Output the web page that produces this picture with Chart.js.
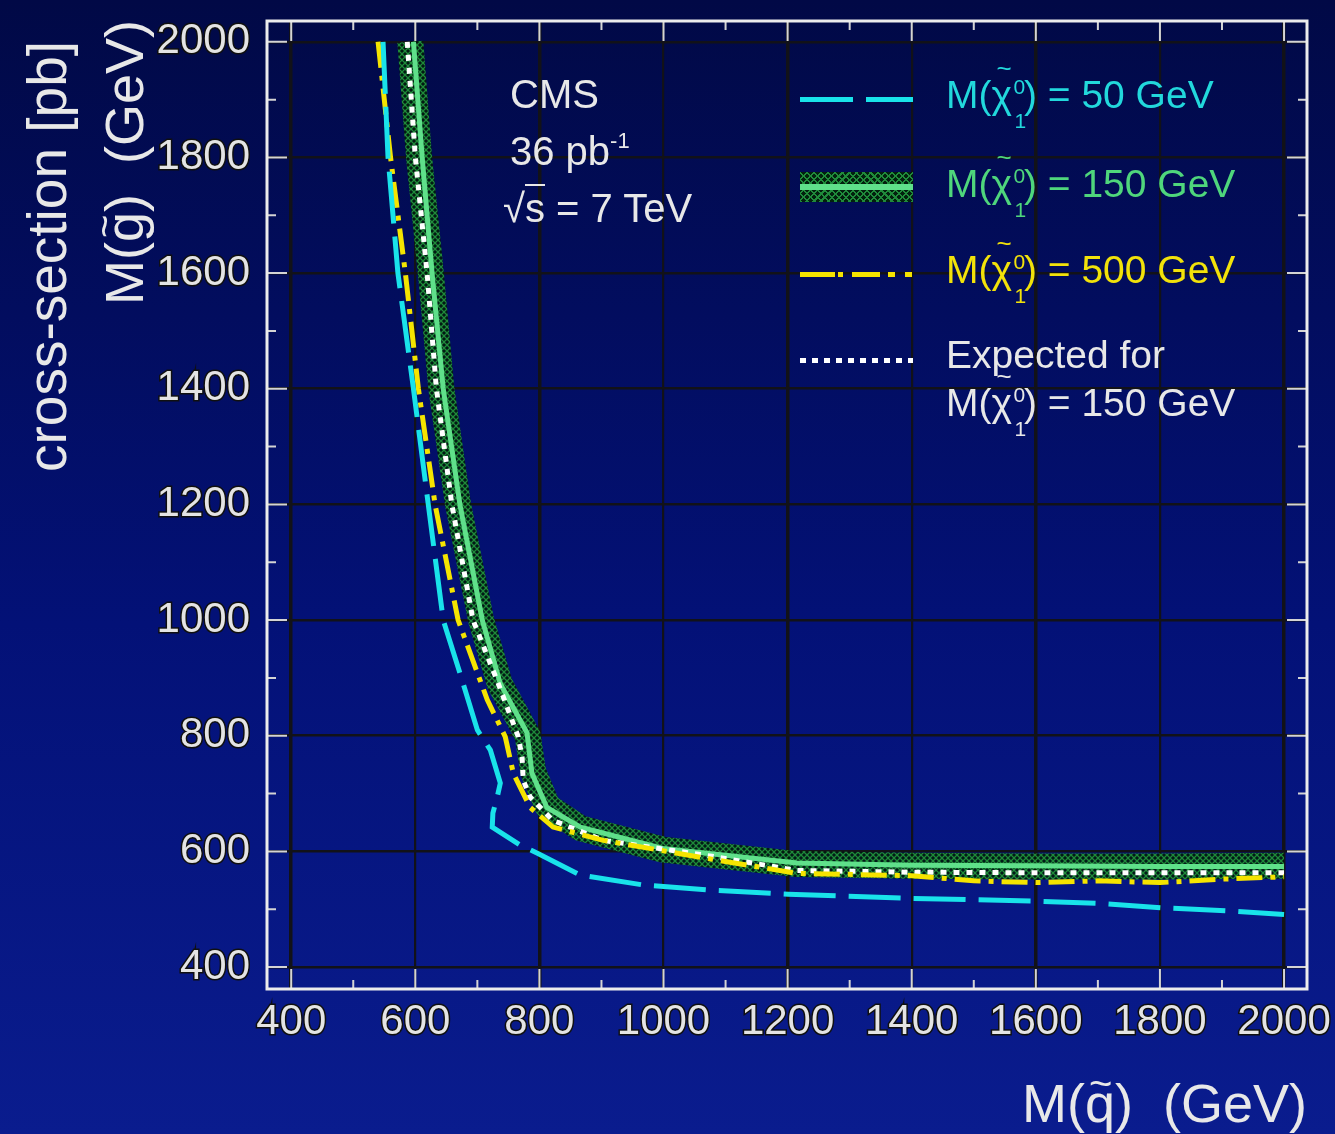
<!DOCTYPE html>
<html>
<head>
<meta charset="utf-8">
<script src="https://cdn.jsdelivr.net/npm/chart.js@4.4.0/dist/chart.umd.min.js"></script>
<style>
  html, body { margin: 0; padding: 0; }
  body {
    width: 1335px; height: 1134px; overflow: hidden;
    background: linear-gradient(180deg, #010946 0%, #031177 55%, #0a1c8e 100%);
    font-family: "Liberation Sans", Arial, sans-serif;
  }
  #wrap { position: relative; width: 1335px; height: 1134px; }
  #box { position: absolute; left: 0; top: 0; width: 1335px; height: 1134px; }
  .t { position: absolute; line-height: 1; white-space: nowrap; }
  .white { color: #e8e8e8; }
  .lg { font-size: 39px; left: 946px; }
  .chi { position: relative; display: inline-block; padding-right: 12px; }
  .chi .sup { position: absolute; font-size: 21px; left: 22px; top: 1px; }
  .chi .sub { position: absolute; font-size: 21px; left: 23px; top: 35px; }
  .chi .tld { position: absolute; font-size: 26px; left: 5px; top: -20px; }
  .tq { position: relative; display: inline-block; }
  .tq .tld { position: absolute; font-size: 40px; left: 4px; top: -13px; }
  .rot { transform-origin: 0 0; transform: rotate(-90deg); }
  .sample { position: absolute; left: 800px; width: 113px; }
</style>
</head>
<body>
<div id="wrap">
  <div id="box"><canvas id="limits"></canvas></div>

  <!-- axis titles -->
  <div class="t white rot" style="left:20px; top:472px; font-size:55px;">cross-section [pb]</div>
  <div class="t white rot" style="left:97px; top:305px; font-size:54px;">M(<span class="tq">g<span class="tld">~</span></span>)&nbsp; (GeV)</div>
  <div class="t white" style="left:1022px; top:1076px; font-size:54px;">M(<span class="tq">q<span class="tld">~</span></span>)&nbsp; (GeV)</div>

  <!-- CMS label -->
  <div class="t white" style="left:510px; top:74px; font-size:40px;">CMS</div>
  <div class="t white" style="left:510px; top:131px; font-size:40px;">36 pb<span style="position:relative; top:-17px; font-size:22px;">-1</span></div>
  <div class="t white" style="left:503px; top:188px; font-size:40px;">&radic;<span style="border-top:2px solid #e8e8e8;">s</span> = 7 TeV</div>

  <!-- legend -->
  <div class="sample" style="top:97px; height:5px; background:linear-gradient(90deg, #19e3ea 0 53px, transparent 53px 66px, #19e3ea 66px 113px);"></div>
  <div class="sample" style="top:172px; height:30px; background-color:#03200e;
       background-image:repeating-linear-gradient(45deg, #1f8a3a 0 1.5px, transparent 1.5px 5px),
                        repeating-linear-gradient(-45deg, #1f8a3a 0 1.5px, transparent 1.5px 5px);"></div>
  <div class="sample" style="top:184px; height:6px; background:#5fe08a;"></div>
  <div class="sample" style="top:272px; height:5px; background:linear-gradient(90deg, #f5e400 0 35px, transparent 35px 38px, #f5e400 38px 43px, transparent 43px 52px, #f5e400 52px 80px, transparent 80px 88px, #f5e400 88px 95px, transparent 95px 105px, #f5e400 105px 112px, transparent 112px);"></div>
  <div class="sample" style="top:358px; height:5px; background:repeating-linear-gradient(90deg, #ffffff 0 6px, transparent 6px 12px);"></div>

  <div class="t lg" style="top:75px; color:#22d8dc;">M(<span class="chi">&chi;<span class="tld">~</span><span class="sup">0</span><span class="sub">1</span></span>) = 50 GeV</div>
  <div class="t lg" style="top:164px; color:#4fd67c;">M(<span class="chi">&chi;<span class="tld">~</span><span class="sup">0</span><span class="sub">1</span></span>) = 150 GeV</div>
  <div class="t lg" style="top:250px; color:#f2e20a;">M(<span class="chi">&chi;<span class="tld">~</span><span class="sup">0</span><span class="sub">1</span></span>) = 500 GeV</div>
  <div class="t lg white" style="top:335px;">Expected for</div>
  <div class="t lg white" style="top:383px;">M(<span class="chi">&chi;<span class="tld">~</span><span class="sup">0</span><span class="sub">1</span></span>) = 150 GeV</div>
</div>

<script>
// squark mass (x) and gluino mass (y) of each exclusion contour, GeV
const lsp50X = [548, 556, 572, 597, 621, 645, 672, 700, 721, 737, 732, 725, 724, 769, 796, 866, 967, 1075, 1201, 1391, 1600, 1705, 1810, 1915, 2000];
const lsp50Y = [2000, 1801, 1600, 1400, 1199, 1000, 908, 810, 775, 718, 694, 666, 642, 611, 597, 559, 542, 533, 526, 519, 514, 510, 502, 497, 491];

const lsp150X = [597, 611, 627, 645, 672, 708, 737, 780, 788, 812, 866, 999, 1215, 1400, 1600, 1800, 2000];
const lsp150Y = [2000, 1801, 1600, 1400, 1199, 1000, 890, 805, 735, 676, 642, 605, 580, 576, 575, 574, 574];

// uncertainty band around the 150 GeV observed limit (centre line)
const bandX = [592, 606, 625, 642, 669, 706, 736, 781, 790, 813, 866, 999, 1215, 1400, 1600, 1800, 2000];
const bandY = [2000, 1801, 1600, 1400, 1199, 1000, 890, 800, 738, 678, 640, 603, 578, 575, 574, 574, 575];

const expectedX = [587, 600, 619, 634, 659, 693, 732, 766, 772, 774, 785, 821, 903, 1064, 1215, 1400, 1600, 1800, 2000];
const expectedY = [2000, 1801, 1600, 1400, 1199, 1000, 895, 798, 763, 723, 694, 654, 619, 594, 567, 564, 563, 563, 563];

const lsp500X = [540, 560, 584, 605, 632, 669, 716, 745, 758, 785, 822, 903, 1064, 1215, 1400, 1500, 1600, 1700, 1800, 1900, 2000];
const lsp500Y = [2000, 1801, 1600, 1400, 1199, 1000, 862, 798, 735, 676, 642, 619, 589, 562, 558, 549, 546, 549, 546, 552, 556];

const xTickValues = [400, 600, 800, 1000, 1200, 1400, 1600, 1800, 2000];
const yTickValues = [400, 600, 800, 1000, 1200, 1400, 1600, 1800, 2000];
const frameTicks = [400, 500, 600, 700, 800, 900, 1000, 1100, 1200, 1300, 1400, 1500, 1600, 1700, 1800, 1900, 2000];

const FONT = "'Liberation Sans', Arial, sans-serif";

const toPoints = (xs, ys) => xs.map((x, i) => ({ x: x, y: ys[i] }));

// cross hatch used for the band
const hatch = document.createElement("canvas");
hatch.width = 6;
hatch.height = 6;
const hctx = hatch.getContext("2d");
hctx.fillStyle = "rgba(2, 28, 12, 0.9)";
hctx.fillRect(0, 0, 6, 6);
hctx.strokeStyle = "#1f8a3a";
hctx.lineWidth = 1.3;
hctx.beginPath();
hctx.moveTo(0, 0); hctx.lineTo(6, 6);
hctx.moveTo(6, 0); hctx.lineTo(0, 6);
hctx.stroke();
const hatchPattern = hctx.createPattern(hatch, "repeat");

// white frame with inward ticks on all four sides
const framePlugin = {
  id: "frame",
  afterDraw(chart) {
    const { ctx, chartArea: a, scales: { x, y } } = chart;
    ctx.save();
    ctx.strokeStyle = "#d4d4d4";
    ctx.lineWidth = 2;
    frameTicks.forEach((v) => {
      const len = v % 200 === 0 ? 20 : 9;
      const px = x.getPixelForValue(v);
      const py = y.getPixelForValue(v);
      ctx.beginPath();
      ctx.moveTo(px, a.bottom); ctx.lineTo(px, a.bottom - len);
      ctx.moveTo(px, a.top); ctx.lineTo(px, a.top + len);
      ctx.moveTo(a.left, py); ctx.lineTo(a.left + len, py);
      ctx.moveTo(a.right, py); ctx.lineTo(a.right - len, py);
      ctx.stroke();
    });
    ctx.strokeStyle = "#ececec";
    ctx.lineWidth = 3;
    ctx.strokeRect(a.left, a.top, a.right - a.left, a.bottom - a.top);
    ctx.restore();
  },
};

const line = (data, color, width, dash, order) => ({
  data: data,
  borderColor: color,
  borderWidth: width,
  borderDash: dash,
  showLine: true,
  pointRadius: 0,
  clip: 0,
  order: order,
});

const axisTicks = (pad) => ({
  color: "#e4e4e4",
  font: { family: FONT, size: 42 },
  padding: pad,
  textStrokeColor: "#101010",
  textStrokeWidth: 3,
  maxRotation: 0,
  autoSkip: false,
  callback: (v) => String(v),
});

new Chart(document.getElementById("limits"), {
  type: "scatter",
  data: {
    datasets: [
      line(toPoints(lsp50X, lsp50Y), "#19e3ea", 5, [52, 13], 1),
      line(toPoints(lsp500X, lsp500Y), "#f5e400", 5, [26, 8, 5, 8], 2),
      line(toPoints(expectedX, expectedY), "#ffffff", 5, [6, 7], 3),
      line(toPoints(lsp150X, lsp150Y), "#5fe08a", 5, [], 4),
      Object.assign(line(toPoints(bandX, bandY), hatchPattern, 26, [], 5), { borderJoinStyle: "round" }),
    ],
  },
  options: {
    responsive: true,
    maintainAspectRatio: false,
    animation: false,
    layout: { padding: { left: 0, top: 0, right: 0, bottom: 85 } },
    plugins: {
      legend: { display: false },
      tooltip: { enabled: false },
    },
    scales: {
      x: {
        type: "linear",
        min: 361,
        max: 2037,
        afterBuildTicks: (s) => { s.ticks = xTickValues.map((v) => ({ value: v })); },
        afterFit: (s) => { s.height = 60; s.paddingRight = 28; s.paddingLeft = 0; },
        border: { display: false },
        grid: {
          color: "#121218",
          lineWidth: (c) => (c.tick && (c.tick.value - 400) % 400 === 0 ? 3.5 : 2.2),
          drawTicks: false,
        },
        ticks: axisTicks(8),
      },
      y: {
        type: "linear",
        min: 362,
        max: 2036,
        afterBuildTicks: (s) => { s.ticks = yTickValues.map((v) => ({ value: v })); },
        afterFit: (s) => { s.width = 267; s.paddingTop = 21; s.paddingBottom = 0; },
        border: { display: false },
        grid: { color: "#121218", lineWidth: 2.6, drawTicks: false },
        ticks: axisTicks(17),
      },
    },
  },
  plugins: [framePlugin],
});
</script>
</body>
</html>
